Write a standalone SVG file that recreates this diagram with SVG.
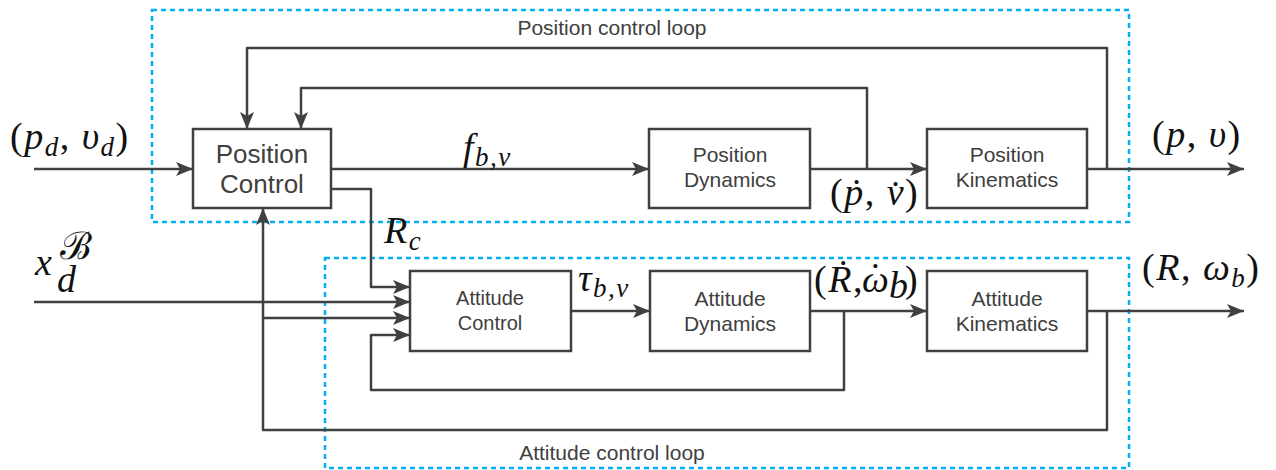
<svg xmlns="http://www.w3.org/2000/svg" width="1276" height="470" viewBox="0 0 1276 470">
<style>
.box{fill:#fff;stroke:#404040;stroke-width:2.5}
.lbl{font-family:"Liberation Sans",Arial,sans-serif;fill:#404040;text-anchor:middle}
.loop{fill:none;stroke:#00b0f0;stroke-width:2.5;stroke-dasharray:5 4}
.wire{fill:none;stroke:#404040;stroke-width:2.5;stroke-linejoin:round}
.m{font-family:"Liberation Serif","Times New Roman",serif;fill:#111;font-size:38px;letter-spacing:1.5px}
.i{font-style:italic}
.ttl{font-family:"Liberation Sans",Arial,sans-serif;fill:#404040;font-size:21px;text-anchor:middle}
</style>
<defs>
<marker id="ah" markerUnits="userSpaceOnUse" markerWidth="18" markerHeight="14" refX="17" refY="7" orient="auto">
<path d="M0,0 L17,7 L0,14 L4,7 z" fill="#404040"/>
</marker>
</defs>
<g id="loops">
<rect class="loop" x="152" y="10" width="977" height="212"/>
<rect class="loop" x="325" y="258" width="804" height="210"/>
<text class="ttl" x="612" y="35">Position control loop</text>
<text class="ttl" x="612" y="460">Attitude control loop</text>
</g>
<g id="connectors">
<path class="wire" d="M34,169 H193" marker-end="url(#ah)"/>
<path class="wire" d="M331,169 H649" marker-end="url(#ah)"/>
<path class="wire" d="M810,169 H927" marker-end="url(#ah)"/>
<path class="wire" d="M1087,169 H1244" marker-end="url(#ah)"/>
<path class="wire" d="M1107,169 V48 H247 V129" marker-end="url(#ah)"/>
<path class="wire" d="M867,169 V88 H301 V129" marker-end="url(#ah)"/>
<path class="wire" d="M331,189 H371 V287 H410" marker-end="url(#ah)"/>
<path class="wire" d="M34,302 H410" marker-end="url(#ah)"/>
<path class="wire" d="M263,318 H410" marker-end="url(#ah)"/>
<path class="wire" d="M1107,311 V430 H263 V208" marker-end="url(#ah)"/>
<path class="wire" d="M844,311 V390 H371 V335 H410" marker-end="url(#ah)"/>
<path class="wire" d="M571,311 H650" marker-end="url(#ah)"/>
<path class="wire" d="M810,311 H927" marker-end="url(#ah)"/>
<path class="wire" d="M1087,311 H1244" marker-end="url(#ah)"/>
</g>
<g id="position-control">
<rect class="box" x="193" y="129" width="138" height="79"/>
<text class="lbl" x="262" y="163" font-size="26">Position</text>
<text class="lbl" x="262" y="193" font-size="26">Control</text>
</g>
<g id="position-dynamics">
<rect class="box" x="649" y="129" width="161" height="79"/>
<text class="lbl" x="730" y="162" font-size="21">Position</text>
<text class="lbl" x="730" y="187" font-size="21">Dynamics</text>
</g>
<g id="position-kinematics">
<rect class="box" x="927" y="129" width="160" height="79"/>
<text class="lbl" x="1007" y="162" font-size="21">Position</text>
<text class="lbl" x="1007" y="187" font-size="21">Kinematics</text>
</g>
<g id="attitude-control">
<rect class="box" x="410" y="271" width="161" height="80"/>
<text class="lbl" x="490" y="305" font-size="20">Attitude</text>
<text class="lbl" x="490" y="330" font-size="20">Control</text>
</g>
<g id="attitude-dynamics">
<rect class="box" x="650" y="271" width="160" height="80"/>
<text class="lbl" x="730" y="306" font-size="21">Attitude</text>
<text class="lbl" x="730" y="331" font-size="21">Dynamics</text>
</g>
<g id="attitude-kinematics">
<rect class="box" x="927" y="271" width="160" height="80"/>
<text class="lbl" x="1007" y="306" font-size="21">Attitude</text>
<text class="lbl" x="1007" y="331" font-size="21">Kinematics</text>
</g>
<g id="labels">
<text class="m" x="10" y="149">(<tspan class="i">p</tspan><tspan class="i" font-size="27" dy="7">d</tspan><tspan dy="-7">, </tspan><tspan class="i">υ</tspan><tspan class="i" font-size="27" dy="7">d</tspan><tspan dy="-7">)</tspan></text>
<text class="m" x="463" y="160"><tspan class="i">f</tspan><tspan class="i" font-size="27" dy="6">b,v</tspan></text>
<text class="m" x="830" y="205" font-size="32">(<tspan class="i">ṗ</tspan>, <tspan class="i">v̇</tspan>)</text>
<text class="m" x="1152" y="147">(<tspan class="i">p</tspan>, <tspan class="i">υ</tspan>)</text>
<text class="m" x="384" y="243"><tspan class="i">R</tspan><tspan class="i" font-size="27" dy="7">c</tspan></text>
<text class="m i" x="35" y="275">x</text>
<text class="m" x="60" y="259" font-size="18" font-family="DejaVu Serif,serif">ℬ</text>
<text class="m i" x="57" y="292" font-size="26">d</text>
<text class="m" x="578" y="291"><tspan class="i">τ</tspan><tspan class="i" font-size="27" dy="6">b,v</tspan></text>
<text class="m" x="814" y="292" font-size="30" letter-spacing="0">(<tspan class="i">Ṙ</tspan>,</text>
<text class="m i" x="862" y="292" font-size="30" letter-spacing="0">ω</text>
<text class="m" x="876" y="289" font-size="30" letter-spacing="0" text-anchor="middle">˙</text>
<text class="m i" x="889" y="298" font-size="21" letter-spacing="0">b</text>
<text class="m" x="905" y="292" font-size="30" letter-spacing="0">)</text>
<text class="m" x="1142" y="280">(<tspan class="i">R</tspan>, <tspan class="i">ω</tspan><tspan class="i" font-size="27" dy="7">b</tspan><tspan dy="-7">)</tspan></text>
</g>
</svg>
